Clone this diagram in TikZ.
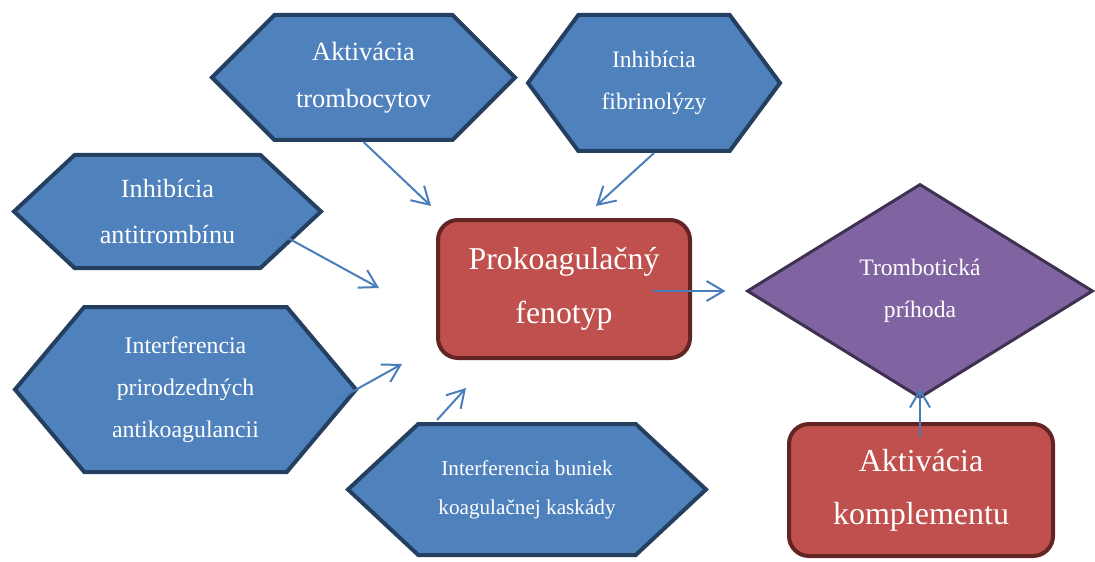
\documentclass[tikz,border=0pt]{standalone}
\usepackage{fontspec}
\setmainfont{Liberation Serif}
\usepackage{tikz}
\usetikzlibrary{calc, positioning, arrows.meta, shapes.geometric, shapes.symbols}

\definecolor{hexfill}{HTML}{4F81BD}
\definecolor{hexline}{HTML}{243F60}
\definecolor{redfill}{HTML}{C0504D}
\definecolor{redline}{HTML}{632523}
\definecolor{purfill}{HTML}{8064A2}
\definecolor{purline}{HTML}{3F3151}
\definecolor{arrcol}{HTML}{4A7EBB}

\tikzset{
    hexbox/.style={shape=signal, signal to=east and west, signal pointer angle=#1,
        draw=hexline, fill=hexfill, line width=2pt, text=white, align=center, inner sep=0pt},
    redbox/.style={rectangle, rounded corners=10pt, draw=redline, fill=redfill,
        line width=2pt, text=white, align=center, inner sep=0pt},
    diabox/.style={diamond, draw=purline, fill=purfill, line width=1.5pt,
        text=white, align=center, inner sep=0pt},
    arr/.style={draw=arrcol, line width=1pt, -{Straight Barb[length=8.5pt,width=10pt]}}
}

\begin{document}
\begin{tikzpicture}[x=0.5pt, y=-0.5pt]

    \useasboundingbox (0,0) rectangle (1095,561);

    % hexagons
    \node[hexbox=90, minimum width=151.5pt, minimum height=62.5pt,
        font=\fontsize{13.2}{23.5}\selectfont] (hexA) at (363.5,77.5) {Aktivácia\\trombocytov};
    \node[hexbox=107, minimum width=126pt, minimum height=68pt,
        font=\fontsize{11.8}{21}\selectfont] (hexB) at (654,83) {Inhibícia\\fibrinolýzy};
    \node[hexbox=86, minimum width=153.5pt, minimum height=56.5pt,
        font=\fontsize{13.1}{23}\selectfont] (hexC) at (167.5,211.5) {Inhibícia\\antitrombínu};
    \node[hexbox=100, minimum width=170.5pt, minimum height=82.5pt,
        font=\fontsize{11.9}{21}\selectfont] (hexD) at (185.5,389.5) {Interferencia\\prirodzedných\\antikoagulancii};
    \node[hexbox=86, minimum width=179pt, minimum height=65.5pt,
        font=\fontsize{10.6}{19.5}\selectfont] (hexE) at (527,489.5) {Interferencia buniek\\koagulačnej kaskády};

    % center and right side
    \node[redbox, minimum width=126pt, minimum height=69pt,
        font=\fontsize{15.9}{27}\selectfont] (pro) at (564,289) {Prokoagulačný\\fenotyp};
    \node[diabox, minimum width=173pt, minimum height=107pt,
        font=\fontsize{11.8}{21}\selectfont] (tro) at (920,291) {Trombotická\\príhoda};
    \node[redbox, minimum width=132pt, minimum height=66pt,
        font=\fontsize{16}{26.5}\selectfont] (kom) at (921,490) {Aktivácia\\komplementu};

    % arrows
    \draw[arr] (hexA.south) -- ([shift={(-5,-12)}]pro.north west);
    \draw[arr] (hexB.south) -- ([shift={(32,-12)}]pro.north);
    \draw[arr] ([shift={(107.5,19.5)}]hexC.center) -- ([shift={(-57,-1)}]pro.west);
    \draw[arr] ([shift={(-23,11.5)}]hexD.east) -- ([shift={(-34,4)}]pro.south west);
    \draw[arr] ([shift={(-90,-2)}]hexE.north) -- ([shift={(30,28)}]pro.south west);
    \draw[arr] ([shift={(89,2)}]pro.center) -- ([shift={(-20,0)}]tro.west);
    \draw[arr] ([shift={(-1,15)}]kom.north) -- ([shift={(0,-11)}]tro.south);

\end{tikzpicture}
\end{document}
